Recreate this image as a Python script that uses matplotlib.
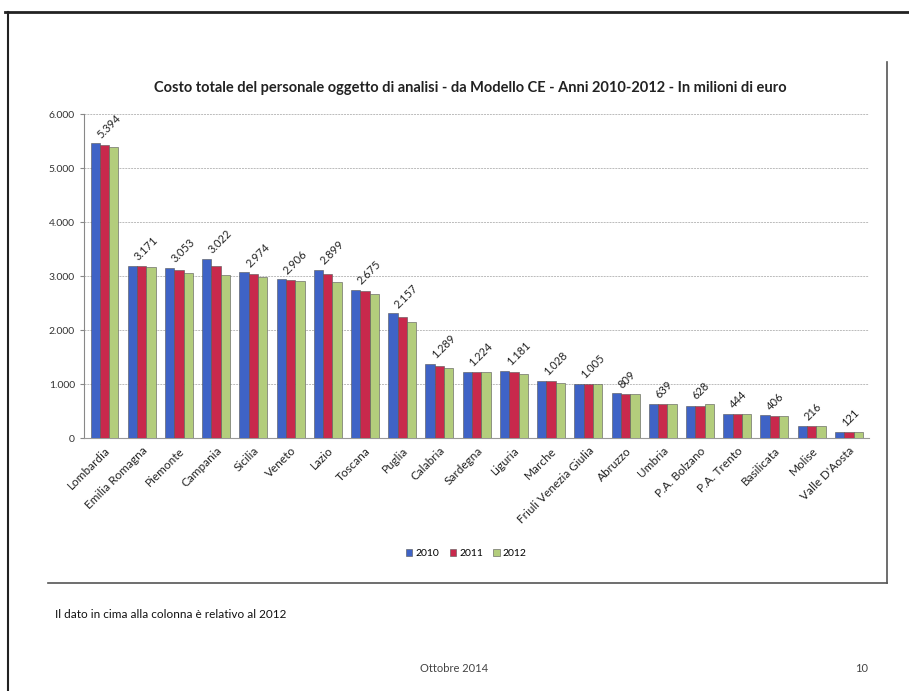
import numpy as np
import matplotlib
matplotlib.use("Agg")
import matplotlib.pyplot as plt
from matplotlib.lines import Line2D
from matplotlib.ticker import FuncFormatter

plt.rcParams['font.family'] = ['Lato', 'DejaVu Sans']

regioni = ["Lombardia", "Emilia Romagna", "Piemonte", "Campania", "Sicilia", "Veneto",
           "Lazio", "Toscana", "Puglia", "Calabria", "Sardegna", "Liguria", "Marche",
           "Friuli Venezia Giulia", "Abruzzo", "Umbria", "P.A. Bolzano", "P.A. Trento",
           "Basilicata", "Molise", "Valle D'Aosta"]
v2010 = [5460, 3180, 3150, 3320, 3070, 2940, 3110, 2740, 2310, 1370, 1230,
         1240, 1060, 1010, 830, 640, 590, 440, 420, 230, 110]
v2011 = [5430, 3190, 3110, 3190, 3030, 2920, 3030, 2720, 2240, 1340, 1230,
         1230, 1050, 1010, 820, 640, 590, 440, 410, 230, 120]
v2012 = [5394, 3171, 3053, 3022, 2974, 2906, 2899, 2675, 2157, 1289, 1224,
         1181, 1028, 1005, 809, 639, 628, 444, 406, 216, 121]
anni = ["2010", "2011", "2012"]
colori = ["#3f63c6", "#c8294c", "#b3cd7c"]

def fmt(v, pos=None):
    return "{:,.0f}".format(v).replace(",", ".")

fig = plt.figure(figsize=(9.09, 6.91), dpi=100, facecolor='w')
ax = fig.add_axes([0.0924, 0.366, 0.864, 0.469])

x = np.arange(len(regioni))
w = 0.25
serie = [v2010, v2011, v2012]
for k in range(3):
    ax.bar(x + (k - 1) * w, serie[k], w, color=colori[k], edgecolor='#555555',
           linewidth=0.4, label=anni[k], zorder=3)

for i in range(len(regioni)):
    top = max(v2010[i], v2011[i], v2012[i])
    ax.text(x[i] - 0.05, top + 60, fmt(v2012[i]), rotation=45, ha='left', va='bottom',
            fontsize=8, color='#222222', rotation_mode='anchor')

ax.set_xlim(-0.55, len(regioni) - 0.45)
ax.set_ylim(0, 6000)
ax.set_yticks(range(0, 6001, 1000))
ax.yaxis.set_major_formatter(FuncFormatter(fmt))
ax.set_xticks(x)
ax.set_xticklabels(regioni, rotation=45, ha='right', rotation_mode='anchor', fontsize=8.5)
ax.tick_params(axis='y', labelsize=7.5, length=3, color='#888888', labelcolor='#333333')
ax.tick_params(axis='x', length=0, pad=5, labelcolor='#222222')
ax.grid(axis='y', color='#bbbbbb', linestyle=(0, (2, 1)), linewidth=0.7, zorder=0)
for s in ['top', 'right']:
    ax.spines[s].set_visible(False)
ax.spines['left'].set_color('#888888')
ax.spines['bottom'].set_color('#999999')

fig.text(0.517, 0.872, "Costo totale del personale oggetto di analisi - da Modello CE - Anni 2010-2012 - In milioni di euro",
         ha='center', va='center', fontsize=10.5, fontweight='bold', color='#222222')

fig.legend(loc='center', bbox_to_anchor=(0.513, 0.199), ncol=3, frameon=False,
           fontsize=7.5, handlelength=0.6, handleheight=0.6, columnspacing=1.0,
           handletextpad=0.3)

# cornice della slide e del grafico
fig.add_artist(Line2D([0.006, 1.0], [0.983, 0.983], color='#222222', linewidth=2))
fig.add_artist(Line2D([0.009, 0.009], [0.0, 0.983], color='#222222', linewidth=1.5))
fig.add_artist(Line2D([0.053, 0.976], [0.157, 0.157], color='#555555', linewidth=1.2))
fig.add_artist(Line2D([0.976, 0.976], [0.157, 0.910], color='#555555', linewidth=1.2))

fig.text(0.06, 0.111, "Il dato in cima alla colonna è relativo al 2012", ha='left', va='center',
         fontsize=8.5, color='#111111')
fig.text(0.5, 0.033, "Ottobre 2014", ha='center', va='center', fontsize=8, color='#444444')
fig.text(0.948, 0.033, "10", ha='center', va='center', fontsize=8, color='#444444')

fig.savefig("out.png", dpi=100)
